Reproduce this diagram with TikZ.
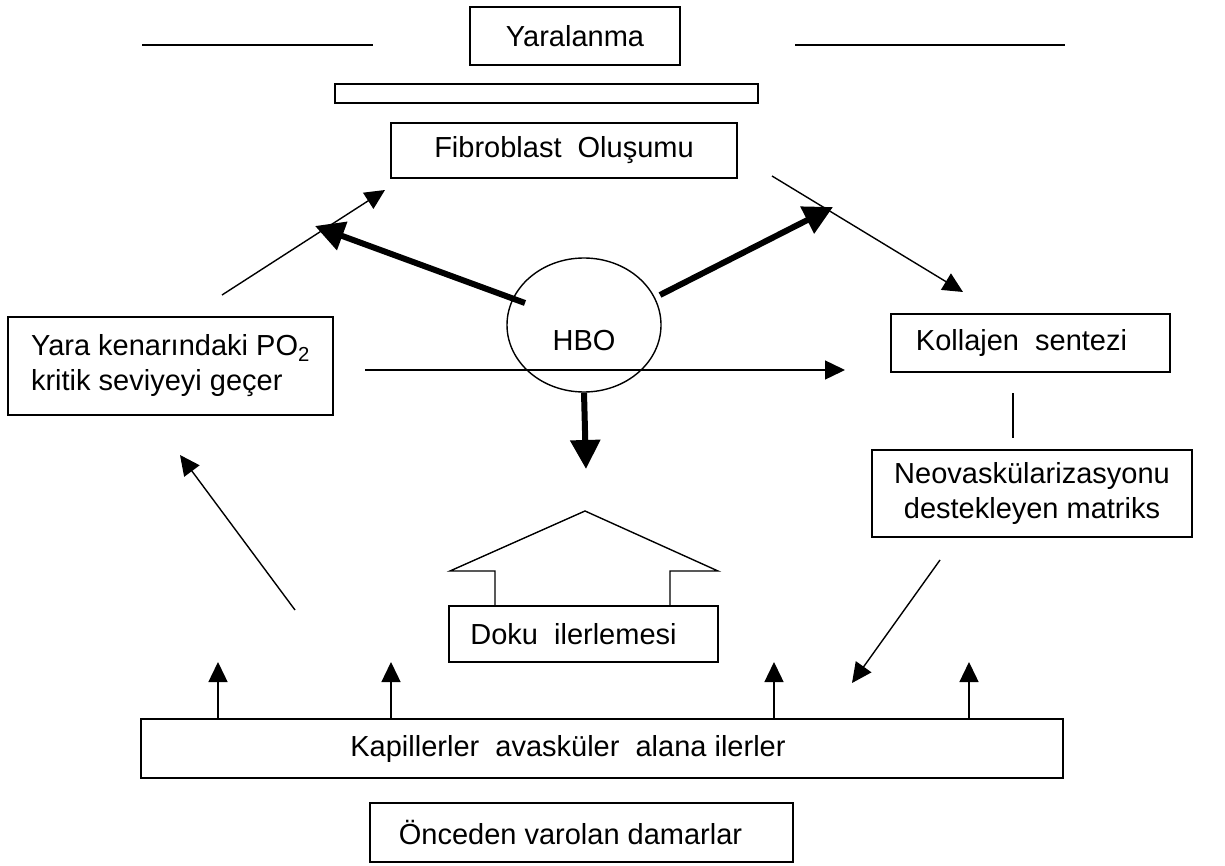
\documentclass[tikz,border=0pt]{standalone}
\usepackage{fontspec}
\setmainfont{Liberation Sans}
\usetikzlibrary{arrows.meta, shapes.geometric}

\begin{document}
\begin{tikzpicture}[x=1pt, y=-1pt, line width=1.4pt,
	every node/.style={font=\fontsize{29}{35}\selectfont, inner sep=0pt},
	box/.style={draw, line width=1.4pt, align=center},
	thinarrow/.style={line width=1.4pt, -{Triangle[length=20pt, width=19pt]}},
	thickarrow/.style={line width=6pt, -{Triangle[length=29pt, width=29pt]}}]
	\useasboundingbox (0,0) rectangle (1225,866);

	\node [box, minimum width=210pt, minimum height=58pt]		(yaralanma) at (575,36)		{Yaralanma};
	\node [box, minimum width=423pt, minimum height=19pt]		(bar)       at (546.5,93.5)	{};
	\node [box, minimum width=346pt, minimum height=55pt]		(fibro)     at (564,150.5)	{Fibroblast~ Oluşumu};
	\node [ellipse, draw, minimum width=154pt, minimum height=134pt] (hbo) at (584,325)
		{\raisebox{-25.5pt}[0pt][0pt]{HBO}};
	\node [box, align=left, minimum width=325pt, minimum height=98pt] (po) at (170.5,366)
		{Yara kenarındaki PO\textsubscript{2}\\kritik seviyeyi geçer};
	\node [box, minimum width=279pt, minimum height=58pt]		(kollajen)  at (1030.5,343)	{Kollajen~ sentezi\hspace*{18pt}};
	\node [box, minimum width=320pt, minimum height=87pt]		(neo)       at (1032,493.5)
		{Neovaskülarizasyonu\\destekleyen matriks};
	\node [box, minimum width=269pt, minimum height=56pt]		(doku)      at (583.5,634)	{Doku~ ilerlemesi\hspace*{20pt}};
	\node [box, minimum width=922pt, minimum height=59pt]		(kapil)     at (602,748.5)
		{Kapillerler~ avasküler~ alana ilerler\hspace*{68pt}};
	\node [box, minimum width=423pt, minimum height=59pt]		(onceden)   at (581.5,832.5)	{Önceden varolan damarlar\hspace*{22pt}};

	% free ends
	\coordinate (poup)   at (222,295);
	\coordinate (fibin)  at (385,190);
	\coordinate (hbol)   at (525,303);
	\coordinate (hbolt)  at (315,226);
	\coordinate (hbor)   at (660,295);
	\coordinate (hbort)  at (833,207);
	\coordinate (fibout) at (772,176);
	\coordinate (kolin)  at (963,292);
	\coordinate (midl)   at (365,370);
	\coordinate (midr)   at (845,370);
	\coordinate (downt)  at (586,469);
	\coordinate (kapl)   at (295,610);
	\coordinate (pobot)  at (180,455);
	\coordinate (neobot) at (940,560);
	\coordinate (kapr)   at (852,683);
	\coordinate (kolbot) at (1013,393);
	\coordinate (neotop) at (1013,438);

	% top lines
	\draw (142,45) -- (373,45);
	\draw (795,45) -- (1065,45);

	\draw[thinarrow] (poup) -- (fibin);
	\draw[thinarrow] (fibout) -- (kolin);
	\draw[thinarrow] (midl) -- (midr);
	\draw[thinarrow] (kapl) -- (pobot);
	\draw[thinarrow] (neobot) -- (kapr);
	\draw (kolbot) -- (neotop);

	\draw[thickarrow] (hbol) -- (hbolt);
	\draw[thickarrow] (hbor) -- (hbort);
	\draw[thickarrow] (hbo.south) -- (downt);

	% house over Doku
	\draw (495,606) -- (495,571) -- (450,571) -- (585,511) -- (718,571) -- (670,571) -- (670,606);

	\foreach \x in {218,391,774,969}
		\draw[thinarrow] (\x,0 |- kapil.north) -- (\x,662);
\end{tikzpicture}
\end{document}
